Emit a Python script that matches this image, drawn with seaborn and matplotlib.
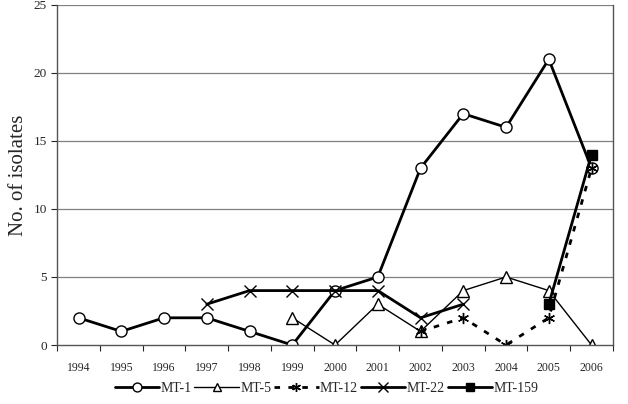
import numpy as np
import pandas as pd
import seaborn as sns
import matplotlib.pyplot as plt

years = ["1994", "1995", "1996", "1997", "1998", "1999", "2000",
         "2001", "2002", "2003", "2004", "2005", "2006"]

mt1_years = years
mt1_vals = [2, 1, 2, 2, 1, 0, 4, 5, 13, 17, 16, 21, 13]
mt5_years = ["1999", "2000", "2001", "2002", "2003", "2004", "2005", "2006"]
mt5_vals = [2, 0, 3, 1, 4, 5, 4, 0]
mt12_years = ["2002", "2003", "2004", "2005", "2006"]
mt12_vals = [1, 2, 0, 2, 13]
mt22_years = ["1997", "1998", "1999", "2000", "2001", "2002", "2003"]
mt22_vals = [3, 4, 4, 4, 4, 2, 3]
mt159_years = ["2005", "2006"]
mt159_vals = [3, 14]

sns.set_style("white")
plt.rcParams['font.family'] = ['Liberation Serif', 'DejaVu Serif']

fig = plt.figure(figsize=(6.28, 4.04), dpi=100)
ax = fig.add_axes([0.091, 0.146, 0.885, 0.842])

# horizontal grid lines behind the series
for v in [5, 10, 15, 20, 25]:
    ax.axhline(v, color='#808080', lw=0.9, zorder=0)

series = [
    ("MT-1", mt1_years, mt1_vals, dict(marker='o', lw=2.0, ls='-', mfc='white', ms=8)),
    ("MT-5", mt5_years, mt5_vals, dict(marker='^', lw=1.0, ls='-', mfc='white', ms=8)),
    ("MT-12", mt12_years, mt12_vals, dict(marker='x', lw=2.0, ls=(0, (2, 3)), mfc='none', ms=8)),
    ("MT-22", mt22_years, mt22_vals, dict(marker='x', lw=2.0, ls='-', mfc='none', ms=9)),
    ("MT-159", mt159_years, mt159_vals, dict(marker='s', lw=2.0, ls='-', mfc='black', ms=7)),
]

pos = {y: i for i, y in enumerate(years)}
for name, yrs, vals, st in series:
    df = pd.DataFrame({"x": [pos[y] for y in yrs], "y": vals})
    sns.lineplot(data=df, x="x", y="y", ax=ax, color='black', label=name,
                 marker=st['marker'], linewidth=st['lw'], linestyle=st['ls'],
                 markerfacecolor=st['mfc'], markeredgecolor='black',
                 markersize=st['ms'], markeredgewidth=1.0)
    if name == "MT-12":
        ax.lines[-1].set_marker((6, 2, 0))

ax.set_xlim(-0.5, 12.5)
ax.set_ylim(0, 25)
ax.set_xticks(range(len(years)))
ax.set_xticklabels(years, fontsize=8.5)
ax.set_xticks(np.arange(-0.5, 13, 1), minor=True)
ax.tick_params(axis='x', which='major', length=0, pad=12)
ax.tick_params(axis='x', which='minor', length=4, width=0.8, direction='out', bottom=True)
ax.set_yticks([0, 5, 10, 15, 20, 25])
ax.tick_params(axis='y', labelsize=9.5, length=4, width=0.8, direction='out', left=True)
ax.set_xlabel("")
ax.set_ylabel("No. of isolates", fontsize=15)
for s in ax.spines.values():
    s.set_color('#555555')
    s.set_linewidth(1.0)
ax.spines['top'].set_visible(False)

handles, labels = ax.get_legend_handles_labels()
ax.legend(handles, labels, loc='center', bbox_to_anchor=(0.52, 0.038),
          bbox_transform=fig.transFigure, ncol=5, frameon=False, fontsize=10,
          handlelength=3.2, handletextpad=0.1, columnspacing=0.2, markerscale=0.8)

fig.savefig("out.png", dpi=100)
